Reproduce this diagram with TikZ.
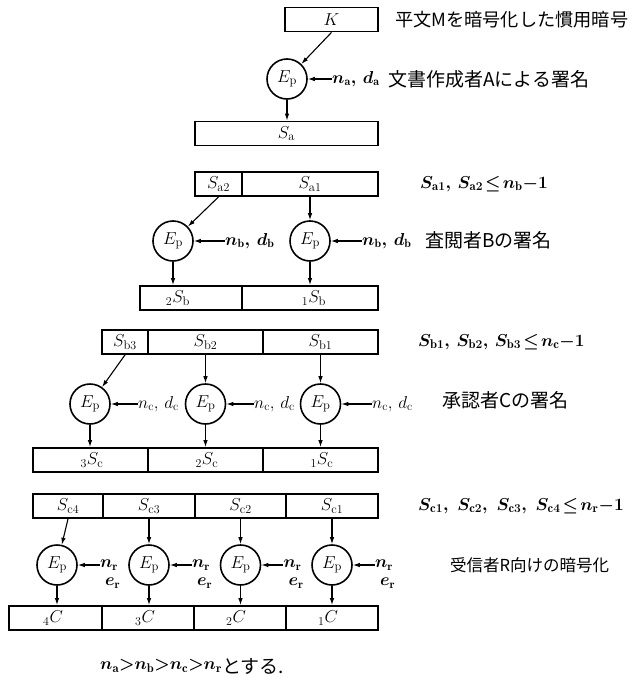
\documentclass[tikz,border=0pt]{standalone}
\usepackage{fontspec}
\newfontfamily\jp{Noto Sans CJK JP}
\usetikzlibrary{arrows.meta,calc}
\newcommand\mtf{\fontsize{18}{20}\selectfont}
\newcommand\ltf{\fontsize{17}{19}\selectfont}
\newcommand\ctf{\fontsize{18}{20}\selectfont}
\newcommand\jtf{\fontsize{19}{21}\selectfont\jp}
\newcommand\jtopf{\fontsize{18.2}{21}\selectfont\jp}
\newcommand\jsf{\fontsize{16.5}{19}\selectfont\jp}
\newcommand\lesseq{\mathrel{\!\leq\!}}
\begin{document}
\begin{tikzpicture}[x=1pt,y=-1pt,
  cell/.style={draw, line width=1.8pt, minimum height=24pt, inner sep=0pt},
  txt/.style={font=\mtf, inner sep=0pt},
  ep/.style={draw, circle, line width=1.6pt, minimum size=40pt, inner sep=0pt, font=\mtf},
  arr/.style={-{Latex[length=7pt,width=4.5pt]}, line width=1.1pt},
  lbl/.style={font=\ltf, inner sep=0pt, anchor=west},
  boldlbl/.style={font=\ltf\boldmath, inner sep=0pt, anchor=west},
  condtext/.style={font=\ctf\boldmath, inner sep=0pt, anchor=west},
  jtext/.style={font=\jtf, inner sep=0pt, anchor=west},
  jtop/.style={font=\jtopf, inner sep=0pt, anchor=west},
  jsmall/.style={font=\jsf, inner sep=0pt, anchor=west}]
\useasboundingbox (0,0) rectangle (635,677);

% ---- row 1
\node[cell, minimum width=93pt, font=\mtf] (K) at (331.5,19.5) {$K$};
\node[ep] (E1) at (287,79) {$E_{\mathrm p}$};
\node[cell, minimum width=183pt, font=\mtf] (Sa) at (286.5,133.5) {$S_{\mathrm a}$};
\draw[arr] (K.south) -- (E1);
\draw[arr] (E1) -- (E1 |- Sa.north);
\node[boldlbl] (na) at (332,79) {$n_{\mathrm a},\, d_{\mathrm a}$};
\draw[arr] (na.west) -- (E1.east);
\node[jtop] (t1) at (395,20) {平文Mを暗号化した慣用暗号};
\node[jtext] (t2) at (388,79) {文書作成者Aによる署名};

% ---- row 2
\node[cell, minimum width=47pt, font=\mtf] (Sa2) at (218.5,184) {$S_{\mathrm{a}2}$};
\node[cell, minimum width=136pt, font=\mtf] (Sa1) at (310,184) {$S_{\mathrm{a}1}$};
\node[condtext] (c2) at (420,184) {$S_{\mathrm{a}1},\, S_{\mathrm{a}2}\lesseq n_{\mathrm b}{-}1$};
\node[ep] (E2a) at (173,241) {$E_{\mathrm p}$};
\node[ep] (E2b) at (310,241) {$E_{\mathrm p}$};
\draw[arr] (Sa2.south) -- (E2a);
\draw[arr] (Sa1.south) -- (E2b);
\node[boldlbl] (nb1) at (225,241) {$n_{\mathrm b},\, d_{\mathrm b}$};
\node[boldlbl] (nb2) at (362,241) {$n_{\mathrm b},\, d_{\mathrm b}$};
\draw[arr] (nb1.west) -- (E2a.east);
\draw[arr] (nb2.west) -- (E2b.east);
\node[jtext] (t3) at (425,240) {査閲者Bの署名};
\node[cell, minimum width=102pt] (Sb2) at (191,298) {};
\node[cell, minimum width=136pt] (Sb1) at (310,298) {};
\node[txt] (lSb2) at (178,298) {${}_{2}S_{\mathrm b}$};
\node[txt] (lSb1) at (314,298) {${}_{1}S_{\mathrm b}$};
\draw[arr] (E2a) -- (E2a |- Sb2.north);
\draw[arr] (E2b) -- (E2b |- Sb1.north);

% ---- row 3
\node[cell, minimum width=46pt, font=\mtf] (Sb3c) at (125,342) {$S_{\mathrm{b}3}$};
\node[cell, minimum width=115pt, font=\mtf] (Sb2c) at (205.5,342) {$S_{\mathrm{b}2}$};
\node[cell, minimum width=115pt, font=\mtf] (Sb1c) at (320.5,342) {$S_{\mathrm{b}1}$};
\node[condtext] (c3) at (418,342) {$S_{\mathrm{b}1},\, S_{\mathrm{b}2},\, S_{\mathrm{b}3}\lesseq n_{\mathrm c}{-}1$};
\node[ep] (E3a) at (90,404) {$E_{\mathrm p}$};
\node[ep] (E3b) at (205.5,404) {$E_{\mathrm p}$};
\node[ep] (E3c) at (320.5,404) {$E_{\mathrm p}$};
\draw[arr] (Sb3c.south) -- (E3a);
\draw[arr] (Sb2c.south) -- (E3b);
\draw[arr] (Sb1c.south) -- (E3c);
\node[lbl] (nc1) at (138,404) {$n_{\mathrm c},\, d_{\mathrm c}$};
\node[lbl] (nc2) at (254,404) {$n_{\mathrm c},\, d_{\mathrm c}$};
\node[lbl] (nc3) at (372,404) {$n_{\mathrm c},\, d_{\mathrm c}$};
\draw[arr] (nc1.west) -- (E3a.east);
\draw[arr] (nc2.west) -- (E3b.east);
\draw[arr] (nc3.west) -- (E3c.east);
\node[jtext] (t4) at (442,400) {承認者Cの署名};
\node[cell, minimum width=115pt] (Sc3) at (90.5,460) {};
\node[cell, minimum width=115pt] (Sc2) at (205.5,460) {};
\node[cell, minimum width=115pt] (Sc1) at (320.5,460) {};
\node[txt] (lSc3) at (92,460) {${}_{3}S_{\mathrm c}$};
\node[txt] (lSc2) at (207,460) {${}_{2}S_{\mathrm c}$};
\node[txt] (lSc1) at (322,460) {${}_{1}S_{\mathrm c}$};
\draw[arr] (E3a) -- (E3a |- Sc3.north);
\draw[arr] (E3b) -- (E3b |- Sc2.north);
\draw[arr] (E3c) -- (E3c |- Sc1.north);

% ---- row 4
\node[cell, minimum width=70pt, font=\mtf] (Sc4c) at (68,506) {$S_{\mathrm{c}4}$};
\node[cell, minimum width=92pt, font=\mtf] (Sc3c) at (149,506) {$S_{\mathrm{c}3}$};
\node[cell, minimum width=91pt, font=\mtf] (Sc2c) at (240.5,506) {$S_{\mathrm{c}2}$};
\node[cell, minimum width=92pt, font=\mtf] (Sc1c) at (332,506) {$S_{\mathrm{c}1}$};
\node[condtext] (c4) at (418,506) {$S_{\mathrm{c}1},\; S_{\mathrm{c}2},\; S_{\mathrm{c}3},\; S_{\mathrm{c}4}\lesseq n_{\mathrm r}{-}1$};
\node[ep] (E4a) at (57,565) {$E_{\mathrm p}$};
\node[ep] (E4b) at (149,565) {$E_{\mathrm p}$};
\node[ep] (E4c) at (240.5,565) {$E_{\mathrm p}$};
\node[ep] (E4d) at (332,565) {$E_{\mathrm p}$};
\draw[arr] (Sc4c.south) -- (E4a);
\draw[arr] (Sc3c.south) -- (E4b);
\draw[arr] (Sc2c.south) -- (E4c);
\draw[arr] (Sc1c.south) -- (E4d);
\foreach \e/\n in {E4a/ra, E4b/rb, E4c/rc, E4d/rd}{
  \node[boldlbl] (n\n) at ($(\e.east)+(22,0)$) {$n_{\mathrm r}$};
  \node[boldlbl] (e\n) at ($(\e.east)+(27,18)$) {$e_{\mathrm r}$};
  \draw[arr] (n\n.west) -- (\e.east);
}
\node[jsmall] (t5) at (450,565) {受信者R向けの暗号化};
\node[cell, minimum width=93pt] (C4) at (55.5,618) {};
\node[cell, minimum width=92pt] (C3) at (148,618) {};
\node[cell, minimum width=92pt] (C2) at (240,618) {};
\node[cell, minimum width=92pt] (C1) at (332,618) {};
\node[txt] (lC4) at (53,618) {${}_{4}C$};
\node[txt] (lC3) at (145,618) {${}_{3}C$};
\node[txt] (lC2) at (236,618) {${}_{2}C$};
\node[txt] (lC1) at (328,618) {${}_{1}C$};
\draw[arr] (E4a) -- (E4a |- C4.north);
\draw[arr] (E4b) -- (E4b |- C3.north);
\draw[arr] (E4c) -- (E4c |- C2.north);
\draw[arr] (E4d) -- (E4d |- C1.north);

% ---- footnote
\node[condtext] (fm) at (100,666) {$n_{\mathrm a}{>}n_{\mathrm b}{>}n_{\mathrm c}{>}n_{\mathrm r}$};
\node[jtext] (foot) at (fm.east) {とする.};
\end{tikzpicture}
\end{document}
